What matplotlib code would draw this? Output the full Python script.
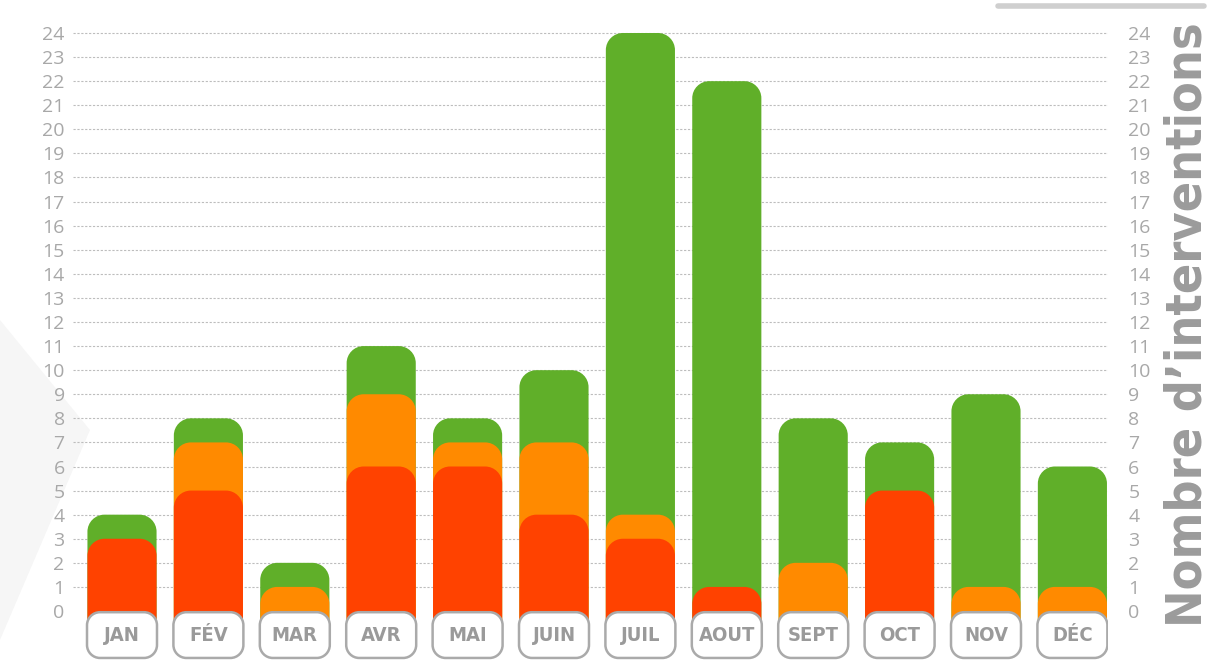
import matplotlib
matplotlib.use("Agg")
import matplotlib.pyplot as plt
import matplotlib.transforms as mtransforms
from matplotlib.path import Path
from matplotlib.patches import PathPatch, Polygon
from matplotlib.lines import Line2D

months = ['JAN', 'FÉV', 'MAR', 'AVR', 'MAI', 'JUIN', 'JUIL', 'AOUT', 'SEPT', 'OCT', 'NOV', 'DÉC']
red_vals = [3, 5, 0, 6, 6, 4, 3, 1, 0, 5, 0, 0]
orange_vals = [0, 2, 1, 3, 1, 3, 1, 0, 2, 0, 1, 1]
green_vals = [1, 1, 1, 2, 1, 3, 20, 21, 6, 2, 8, 5]
y_ticks = list(range(0, 25))
axis_title = "Nombre d’interventions"

C_GREEN = '#60af29'
C_ORANGE = '#ff8a00'
C_RED = '#ff4200'
C_TXT = '#a8a8a8'

W, H = 1214, 668
fig = plt.figure(figsize=(W / 100, H / 100), dpi=100)
fig.patch.set_facecolor('white')

# faint background shape at left
fig.patches.append(Polygon([(0, 1 - 320 / H), (90 / W, 1 - 430 / H), (0, 1 - 640 / H)],
                           closed=True, transform=fig.transFigure, facecolor='#f6f6f6',
                           edgecolor='none', zorder=-5))

ax_l, ax_r = 73, 1108
y_lo, y_hi = -2.2, 24.4
px_unit_y = (611 - 33) / 24.0
ax_top_px = 33 - (y_hi - 24) * px_unit_y
ax_bot_px = 611 + (0 - y_lo) * px_unit_y
ax = fig.add_axes([ax_l / W, 1 - ax_bot_px / H, (ax_r - ax_l) / W, (ax_bot_px - ax_top_px) / H])
ax.set_facecolor('none')
x_lo = (ax_l - 122) / 86.4
x_hi = (ax_r - 122) / 86.4
ax.set_xlim(x_lo, x_hi)
ax.set_ylim(y_lo, y_hi)
for s in ax.spines.values():
    s.set_visible(False)

px_x = (ax_r - ax_l) / (x_hi - x_lo)
px_y = px_unit_y


def rrect(x0, y0, x1, y1, r_px, top_only):
    rx, ry = r_px / px_x, r_px / px_y
    k = 0.5523
    v, c = [], []
    if top_only:
        v += [(x0, y0)]; c += [Path.MOVETO]
    else:
        v += [(x0 + rx, y0), (x0 + rx - k * rx, y0), (x0, y0 + ry - k * ry), (x0, y0 + ry)]
        c += [Path.MOVETO, Path.CURVE4, Path.CURVE4, Path.CURVE4]
    v += [(x0, y1 - ry), (x0, y1 - ry + k * ry), (x0 + rx - k * rx, y1), (x0 + rx, y1)]
    c += [Path.LINETO, Path.CURVE4, Path.CURVE4, Path.CURVE4]
    v += [(x1 - rx, y1), (x1 - rx + k * rx, y1), (x1, y1 - ry + k * ry), (x1, y1 - ry)]
    c += [Path.LINETO, Path.CURVE4, Path.CURVE4, Path.CURVE4]
    if top_only:
        v += [(x1, y0)]; c += [Path.LINETO]
    else:
        v += [(x1, y0 + ry), (x1, y0 + ry - k * ry), (x1 - rx + k * rx, y0), (x1 - rx, y0)]
        c += [Path.LINETO, Path.CURVE4, Path.CURVE4, Path.CURVE4]
    v += [(0, 0)]; c += [Path.CLOSEPOLY]
    return Path(v, c)


# gridlines
for t in y_ticks[1:]:
    ax.axhline(t, color='#bdbdbd', lw=0.8, ls=(0, (2.0, 1.5)), zorder=1)

bw = 0.8
for i, m in enumerate(months):
    r = red_vals[i]
    o = r + orange_vals[i]
    g = o + green_vals[i]
    layers = []
    if g > o:
        layers.append((g, C_GREEN))
    if o > r:
        layers.append((o, C_ORANGE))
    if r > 0:
        layers.append((r, C_RED))
    for val, col in layers:
        p = rrect(i - bw / 2, -0.4, i + bw / 2, val, 17, True)
        ax.add_patch(PathPatch(p, facecolor=col, edgecolor='none', zorder=3))
    # label box
    bp = rrect(i - 0.405, -1.95, i + 0.405, -0.05, 13, False)
    ax.add_patch(PathPatch(bp, facecolor='white', edgecolor='#aaaaaa', lw=1.8, zorder=5))
    ax.text(i, -1.0, m, ha='center', va='center', fontsize=14.5, fontweight='bold',
            fontstretch='condensed', color='#9a9a9a', zorder=6, family='DejaVu Sans')

ax.set_xticks([])
ax.set_yticks(y_ticks)
ax.set_yticklabels([str(t) for t in y_ticks])
ax.tick_params(axis='y', length=0, labelsize=14, labelcolor=C_TXT,
               left=False, right=False, labelleft=True, labelright=True, pad=6)
for tk in ax.yaxis.get_major_ticks():
    tk.label1.set_family('Open Sans')
    tk.label2.set_family('Open Sans')
    tk.label2.set_transform(tk.label2.get_transform() +
                            mtransforms.ScaledTranslation(12 / 100, 0, fig.dpi_scale_trans))

fig.text(1187 / W, 1 - 325 / H, axis_title, rotation=90, ha='center', va='center',
         fontsize=36, fontweight='bold', color='#9b9b9b', family='DejaVu Sans',
         fontstretch='condensed')

fig.add_artist(Line2D([998 / W, 1204 / W], [1 - 6 / H, 1 - 6 / H], transform=fig.transFigure,
                      color='#cfcfcf', lw=4, solid_capstyle='round'))

fig.savefig('out.png', dpi=100, facecolor='white')
